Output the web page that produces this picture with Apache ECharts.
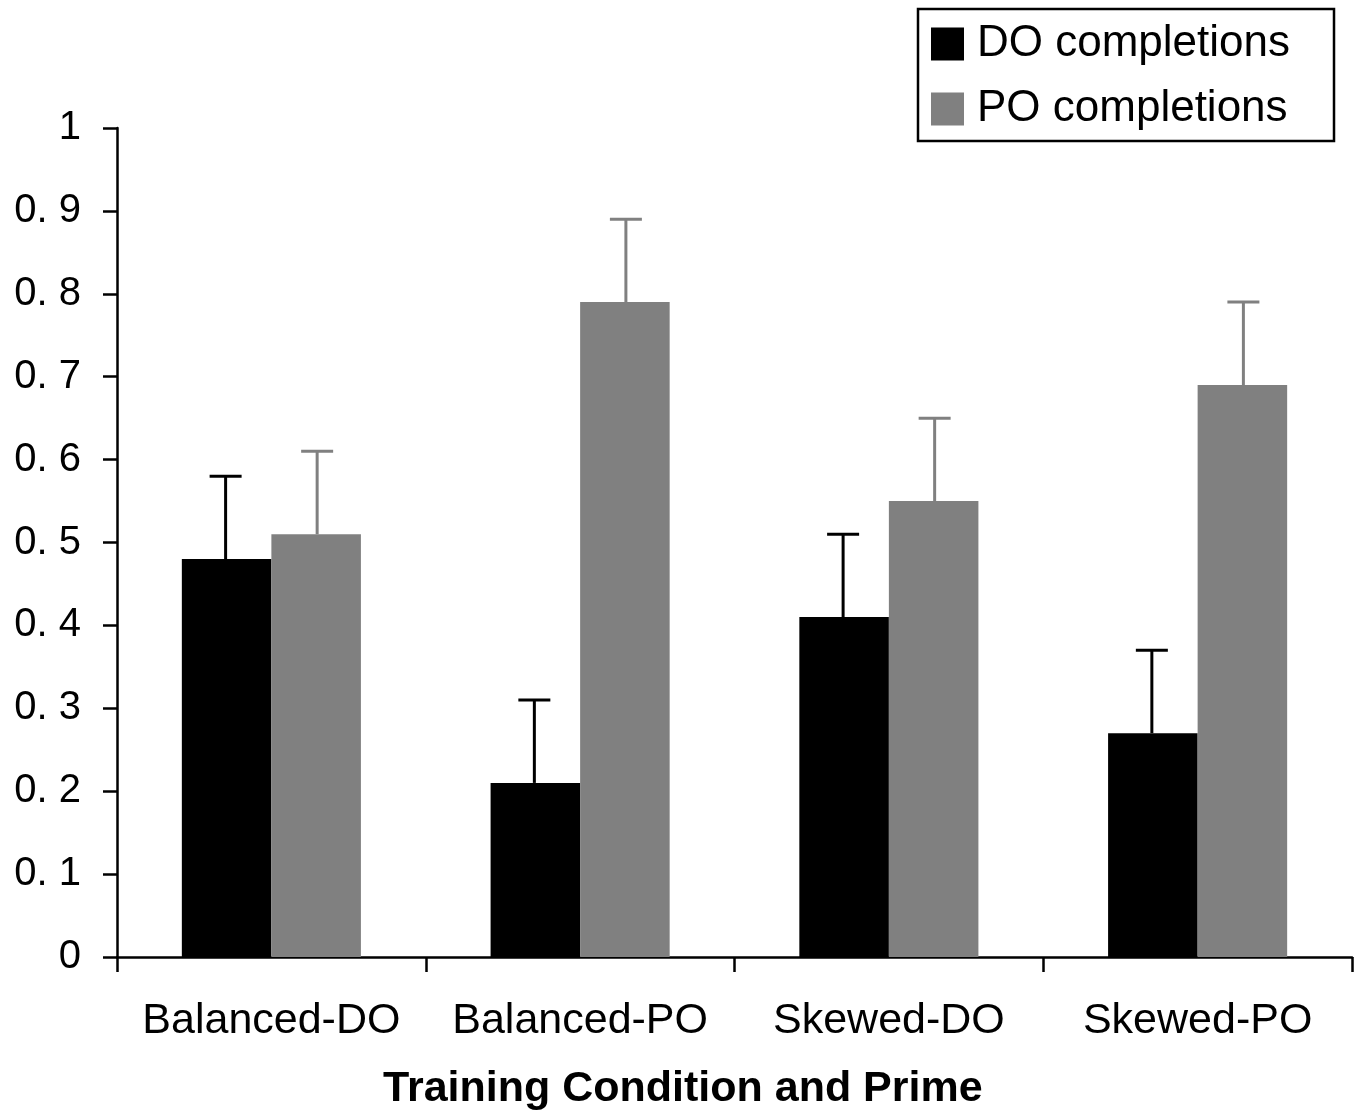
<!DOCTYPE html>
<html>
<head>
<meta charset="utf-8">
<script src="https://cdn.jsdelivr.net/npm/echarts@6/dist/echarts.min.js"></script>
<style>
html,body{margin:0;padding:0;background:#fff;}
#chart{width:1360px;height:1117px;}
</style>
</head>
<body>
<div id="chart"></div>
<script>
const categories = ['Balanced-DO', 'Balanced-PO', 'Skewed-DO', 'Skewed-PO'];
const doValues = [0.48, 0.21, 0.41, 0.27];
const doErrors = [0.10, 0.10, 0.10, 0.10];
const poValues = [0.51, 0.79, 0.55, 0.69];
const poErrors = [0.10, 0.10, 0.10, 0.10];
const yTickLabels = ['0', '0. 1', '0. 2', '0. 3', '0. 4', '0. 5', '0. 6', '0. 7', '0. 8', '0. 9', '1'];
const seriesNames = ['DO completions', 'PO completions'];
const axisTitle = 'Training Condition and Prime';

const FONT = '"Liberation Sans", Arial, sans-serif';
const BAR_FRAC = 0.29;
const DO_COLOR = '#000000';
const PO_COLOR = '#808080';

function errorSeries(name, values, errors, side, color) {
  return {
    type: 'custom',
    name: name + ' error',
    z: 5,
    silent: true,
    data: values.map((v, i) => [i, v, errors[i]]),
    renderItem: function (params, api) {
      const idx = api.value(0);
      const v = api.value(1);
      const e = api.value(2);
      const base = api.coord([idx, v]);
      const top = api.coord([idx, v + e]);
      const bw = api.size([1, 0])[0] * BAR_FRAC;
      const x = base[0] + side * bw / 2 + side * 1;
      const cap = 16;
      const style = { stroke: color, lineWidth: 3 };
      return {
        type: 'group',
        children: [
          { type: 'line', shape: { x1: x, y1: base[1], x2: x, y2: top[1] }, style: style },
          { type: 'line', shape: { x1: x - cap, y1: top[1], x2: x + cap, y2: top[1] }, style: style }
        ]
      };
    }
  };
}

const chart = echarts.init(document.getElementById('chart'));
chart.setOption({
  animation: false,
  backgroundColor: '#fff',
  textStyle: { fontFamily: FONT, color: '#000' },
  title: {
    text: axisTitle,
    left: 383,
    top: 1068,
    padding: 0,
    textStyle: { fontFamily: FONT, fontSize: 43, fontWeight: 'bold', color: '#000' }
  },
  legend: {
    orient: 'vertical',
    left: 918,
    top: 9,
    data: seriesNames,
    icon: 'rect',
    itemWidth: 33,
    itemHeight: 33,
    itemGap: 21,
    borderColor: '#000',
    borderWidth: 2.5,
    borderRadius: 0,
    padding: [13, 44, 10, 13],
    textStyle: { fontFamily: FONT, fontSize: 44, color: '#000', padding: [0, 0, 0, 8] }
  },
  grid: { left: 117, right: 8, top: 128, bottom: 160, containLabel: false },
  xAxis: {
    type: 'category',
    data: categories,
    axisLine: { lineStyle: { color: '#000', width: 2.5 } },
    axisTick: { show: true, interval: 0, length: 15, lineStyle: { color: '#000', width: 2.5 } },
    axisLabel: { interval: 0, fontFamily: FONT, fontSize: 43, color: '#000', margin: 43 },
    splitLine: { show: false }
  },
  yAxis: {
    type: 'value',
    min: 0,
    max: 1,
    interval: 0.1,
    axisLine: { show: true, lineStyle: { color: '#000', width: 2.5 } },
    axisTick: { show: true, length: 14, lineStyle: { color: '#000', width: 2.5 } },
    axisLabel: {
      fontFamily: FONT, fontSize: 40, color: '#000', margin: 36,
      formatter: function (v) { return yTickLabels[Math.round(v * 10)]; }
    },
    splitLine: { show: false }
  },
  series: [
    {
      name: seriesNames[0], type: 'bar', data: doValues,
      barWidth: (BAR_FRAC * 100) + '%', barGap: '0%',
      itemStyle: { color: DO_COLOR }
    },
    {
      name: seriesNames[1], type: 'bar', data: poValues,
      barWidth: (BAR_FRAC * 100) + '%', barGap: '0%',
      itemStyle: { color: PO_COLOR }
    },
    errorSeries(seriesNames[0], doValues, doErrors, -1, DO_COLOR),
    errorSeries(seriesNames[1], poValues, poErrors, 1, PO_COLOR)
  ]
});
</script>
</body>
</html>
